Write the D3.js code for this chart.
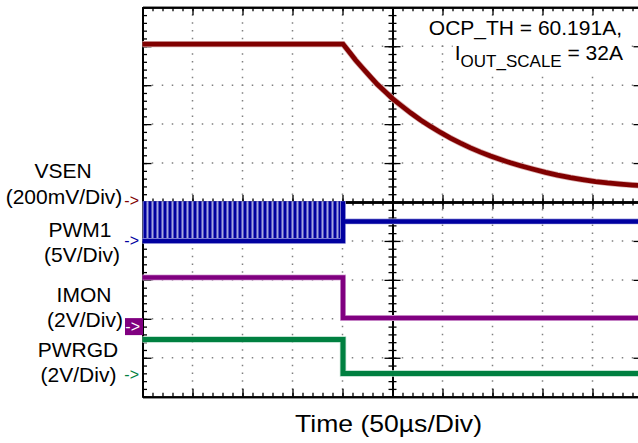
<!DOCTYPE html>
<html><head><meta charset="utf-8">
<script src="https://cdn.jsdelivr.net/npm/d3@7"></script>
<style>
body{margin:0;background:#fff;}
svg{display:block;}
text{font-family:"Liberation Sans",Arial,Helvetica,sans-serif;fill:#000;}
</style>
</head><body>
<svg id="c" width="638" height="443"></svg>
<script>
// ---------------- data ----------------
const channelNames = ["VSEN", "PWM1", "IMON", "PWRGD"];
const channelScaleLabels = ["(200mV/Div)", "(5V/Div)", "(2V/Div)", "(2V/Div)"];
const voltsPerDiv = [0.2, 5, 2, 2];
const timeAxisLabel = "Time (50µs/Div)";
const noteLine1 = "OCP_TH = 60.191A,";
const noteLine2Main = "I";
const noteLine2Sub = "OUT_SCALE";
const noteLine2End = " = 32A";

// VSEN (V) vs time (µs, 0 = screen centre)
const vsenTime  = [-250, -49.5, -42, -37, -30, -22, -15, -7, 0, 8, 18, 28, 38, 48, 58, 68, 78, 88, 98, 108, 118, 128, 140, 153, 165, 178, 190, 203, 215, 228, 240, 250];
const vsenVolts = [0.806, 0.806, 0.757, 0.724, 0.683, 0.637, 0.598, 0.560, 0.526, 0.493, 0.453, 0.416, 0.383, 0.352, 0.323, 0.297, 0.273, 0.251, 0.231, 0.213, 0.196, 0.181, 0.164, 0.147, 0.133, 0.120, 0.110, 0.100, 0.093, 0.087, 0.082, 0.078];

// PWM1: switching pulses before the fault, then tri-state level
const pwmRiseTimes = [-249, -244, -239, -234, -229, -224, -219, -214, -209, -204,
                      -199, -194, -189, -184, -179, -174, -169, -164, -159, -154,
                      -149, -144, -139, -134, -129, -124, -119, -114, -109, -104,
                      -99, -94, -89, -84, -79, -74, -69, -64, -59, -54];
const pwmPulseWidth = 3;          // µs
const pwmHighVolts = 5.1;
const pwmSwitchStart = -250, pwmSwitchEnd = -49.5;
const pwmTime  = [-250, -49.5, -49.5, -49.5, 250];
const pwmVolts = [0, 0, 5.1, 2.5, 2.5];

// IMON (V)
const imonTime  = [-250, -49.5, 250];
const imonVolts = [2.52, 0.44, 0.44];

// PWRGD (V)
const pgTime  = [-250, -49.5, 250];
const pgVolts = [1.80, 0.05, 0.05];

// ---------------- drawing ----------------
const svg = d3.select("#c");
const L = 142.5, R = 642.5, T = 7.3, B = 396.7;
const x = d3.scaleLinear().domain([-250, 250]).range([L, R]);
const yd = d3.scaleLinear().domain([-5, 5]).range([B, T]);
const refOffsetDiv = [0.026, -1.0, -3.2, -4.43];
const chY = i => v => yd(refOffsetDiv[i] + v / voltsPerDiv[i]);
const colors = ["#800000", "#0000a0", "#800080", "#008040"];
const halos  = ["#dcb0b0", "#a6a6e0", "#dcb0dc", "#b0dcc6"];

// dotted grid
const g = svg.append("g");
const divX = d3.range(-200, 201, 50).filter(d => d !== 0);
const divY = d3.range(-4, 5, 1).filter(d => d !== 0);
const subY = (B - T) / 50;
g.selectAll(".vg").data(divX).join("line")
  .attr("x1", d => x(d)).attr("x2", d => x(d)).attr("y1", T).attr("y2", B)
  .attr("stroke", "#808080").attr("stroke-width", 1.5)
  .attr("stroke-dasharray", `1.5 ${subY - 1.5}`).attr("stroke-dashoffset", 0.75);
g.selectAll(".hg").data(divY).join("line")
  .attr("x1", L).attr("x2", R).attr("y1", d => yd(d)).attr("y2", d => yd(d))
  .attr("stroke", "#808080").attr("stroke-width", 1.5)
  .attr("stroke-dasharray", "1.5 8.5").attr("stroke-dashoffset", 0.75);

// axes helpers
const minorT = d3.range(-250, 251, 10);
const majorT = d3.range(-250, 251, 50);
const minorV = d3.range(-5, 5.001, 0.2).map(v => +v.toFixed(2));
const majorV = d3.range(-5, 6, 1);
function ax(gen, scale, vals, size, tx, ty, sw) {
  const a = svg.append("g").attr("transform", `translate(${tx},${ty})`)
    .call(gen(scale).tickValues(vals).tickSize(size).tickSizeOuter(0).tickFormat(""));
  a.selectAll("line").attr("stroke", "#000").attr("stroke-width", sw || 1.3);
  a.select(".domain").attr("stroke", "#000").attr("stroke-width", 2);
  return a;
}
// borders
ax(d3.axisBottom, x, minorT, 4, 0, T);
ax(d3.axisBottom, x, majorT, 8, 0, T);
ax(d3.axisTop, x, minorT, 4, 0, B);
ax(d3.axisTop, x, majorT, 8, 0, B);
ax(d3.axisRight, yd, minorV, 4.5, L, 0);
ax(d3.axisRight, yd, majorV, 9, L, 0);
ax(d3.axisLeft, yd, minorV, 4.5, R, 0);
ax(d3.axisLeft, yd, majorV, 9, R, 0);
// centre axes
const cy0 = yd(0), cx0 = x(0);
ax(d3.axisTop, x, minorT, 3.5, 0, cy0);
ax(d3.axisBottom, x, minorT, 3.5, 0, cy0);
ax(d3.axisTop, x, majorT, 7, 0, cy0);
ax(d3.axisBottom, x, majorT, 7, 0, cy0);
ax(d3.axisLeft, yd, minorV, 4, cx0, 0);
ax(d3.axisRight, yd, minorV, 4, cx0, 0);
ax(d3.axisLeft, yd, majorV, 8, cx0, 0);
ax(d3.axisRight, yd, majorV, 8, cx0, 0);

// traces
const traces = svg.append("g");
function trace(i, tArr, vArr, curve, w) {
  const pts = tArr.map((t, k) => [t, vArr[k]]);
  const yy = chY(i);
  const line = d3.line().x(d => x(d[0])).y(d => yy(d[1])).curve(curve || d3.curveLinear);
  traces.append("path").attr("d", line(pts)).attr("fill", "none")
    .attr("stroke", halos[i]).attr("stroke-width", (w || 4.6) + 1.4).attr("stroke-linejoin", "miter");
  traces.append("path").attr("d", line(pts)).attr("fill", "none")
    .attr("stroke", colors[i]).attr("stroke-width", w || 4.6).attr("stroke-linejoin", "miter");
}
// PWM switching band
const py = chY(1);
traces.append("rect")
  .attr("x", x(pwmSwitchStart)).attr("width", x(pwmSwitchEnd) - x(pwmSwitchStart))
  .attr("y", py(pwmHighVolts)).attr("height", py(0) - py(pwmHighVolts))
  .attr("fill", halos[1]);
traces.selectAll(".pulse").data(pwmRiseTimes).join("rect")
  .attr("x", d => x(d)).attr("width", x(pwmPulseWidth) - x(0))
  .attr("y", py(pwmHighVolts)).attr("height", py(0) - py(pwmHighVolts))
  .attr("fill", colors[1]);
trace(1, pwmTime, pwmVolts, d3.curveLinear, 4.4);
trace(0, vsenTime, vsenVolts, d3.curveLinear, 4.8);
trace(2, imonTime, imonVolts, d3.curveStepAfter, 4.6);
trace(3, pgTime, pgVolts, d3.curveStepAfter, 5);

// channel labels
const labelCenters = [63, 80, 84, 78];
const labelBase = [178, 237, 301.5, 356.5];
const scaleCenters = [64, 82, 85, 78.5];
const scaleBase = [203.5, 261.5, 326.5, 381.5];
channelNames.forEach((n, i) => {
  svg.append("text").attr("x", labelCenters[i]).attr("y", labelBase[i])
    .attr("text-anchor", "middle").attr("font-size", 21).text(n);
  svg.append("text").attr("x", scaleCenters[i]).attr("y", scaleBase[i])
    .attr("text-anchor", "middle").attr("font-size", 21).text(channelScaleLabels[i]);
  const ry = chY(i)(0);
  if (i === 2) {
    svg.append("rect").attr("x", 125).attr("y", ry - 8.5).attr("width", 18).attr("height", 17)
      .attr("fill", colors[i]);
    svg.append("text").attr("x", 140).attr("y", ry + 5).attr("text-anchor", "end")
      .attr("font-size", 16).style("fill", "#fff").text("->");
  } else {
    svg.append("text").attr("x", 139).attr("y", ry + 5).attr("text-anchor", "end")
      .attr("font-size", 16).style("fill", colors[i]).text("->");
  }
});

// annotation
const n1 = svg.append("text").attr("x", 622).attr("y", 35).attr("text-anchor", "end")
  .attr("font-size", 21).text(noteLine1);
const n2 = svg.append("text").attr("x", 623).attr("y", 60).attr("text-anchor", "end")
  .attr("font-size", 21);
n2.append("tspan").text(noteLine2Main);
n2.append("tspan").attr("font-size", 17).attr("dy", 7).text(noteLine2Sub);
n2.append("tspan").attr("dy", -7).text(noteLine2End);
[n1, n2].forEach(n => {
  const b = n.node().getBBox();
  svg.insert("rect", () => n.node()).attr("x", b.x - 2).attr("y", b.y + 1)
    .attr("width", b.width + 4).attr("height", b.height - 1).attr("fill", "#fff");
});

// time label
svg.append("text").attr("x", 295).attr("y", 432).attr("font-size", 24)
  .attr("textLength", 187).attr("lengthAdjust", "spacingAndGlyphs").text(timeAxisLabel);
</script>
</body></html>
